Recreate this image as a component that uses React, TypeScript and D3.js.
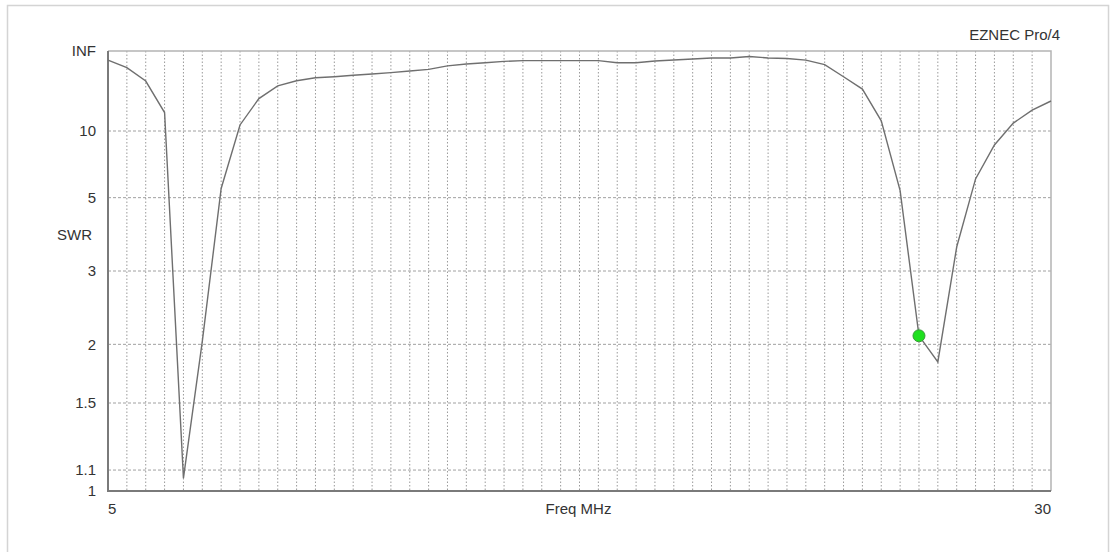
import React, { useEffect, useRef } from "react";
import * as d3 from "d3";

// SWR sweep, 5 - 30 MHz, read every 0.5 MHz
const freqs = [
  5, 5.5, 6, 6.5, 7, 7.5, 8, 8.5, 9, 9.5,
  10, 10.5, 11, 11.5, 12, 12.5, 13, 13.5, 14, 14.5,
  15, 15.5, 16, 16.5, 17, 17.5, 18, 18.5, 19, 19.5,
  20, 20.5, 21, 21.5, 22, 22.5, 23, 23.5, 24, 24.5,
  25, 25.5, 26, 26.5, 27, 27.5, 28, 28.5, 29, 29.5, 30,
];
const swr = [
  96, 52, 28.3, 13.3, 1.06, 2.03, 5.4, 10.9, 17.5, 24.2,
  28.6, 31.9, 33.2, 35.2, 37.3, 39.6, 43, 47, 58, 67,
  74, 84, 90, 90, 90, 90, 90, 74, 74, 87,
  96, 109, 125, 125, 159, 125, 116, 95, 64, 33.2,
  22.1, 11.6, 5.3, 2.09, 1.83, 3.49, 5.88, 8.36, 11.2, 13.9, 16.6,
];
const markerFreq = 26.5;
const markerSwr = 2.09;

const swrTicks = [1, 1.1, 1.5, 2, 3, 5, 10, Infinity];
const swrTickLabels = ["1", "1.1", "1.5", "2", "3", "5", "10", "INF"];

// EZNEC plots SWR on a reflection coefficient scale
const rho = (s: number) => (s === Infinity ? 1 : (s - 1) / (s + 1));

const App = () => {
  const svgRef = useRef<SVGSVGElement>(null);

  useEffect(() => {
    const width = 1113;
    const height = 552;
    const margin = { top: 51, right: 62, bottom: 61, left: 108 };
    const font = "'Liberation Sans', Arial, sans-serif";

    const svg = d3.select(svgRef.current);
    svg.selectAll("*").remove();

    const x = d3.scaleLinear()
      .domain([5, 30])
      .range([margin.left, width - margin.right]);

    const yr = d3.scaleLinear()
      .domain([0, 1])
      .range([height - margin.bottom, margin.top]);
    const y = (s: number) => yr(rho(s));

    // outer frame
    svg.append("rect")
      .attr("x", 7.5).attr("y", 5.5)
      .attr("width", 1101).attr("height", 560)
      .attr("fill", "white")
      .attr("stroke", "#d4d4d4")
      .attr("stroke-width", 1.5);

    // vertical grid, every 0.5 MHz
    svg.append("g")
      .selectAll("line")
      .data(d3.range(5.5, 30, 0.5))
      .join("line")
      .attr("x1", d => x(d)).attr("x2", d => x(d))
      .attr("y1", margin.top).attr("y2", height - margin.bottom)
      .attr("stroke", "#9a9a9a")
      .attr("stroke-width", 1)
      .attr("stroke-dasharray", "1.5,2");

    // horizontal grid
    svg.append("g")
      .selectAll("line")
      .data(swrTicks.filter(s => s > 1 && s !== Infinity))
      .join("line")
      .attr("x1", margin.left).attr("x2", width - margin.right)
      .attr("y1", d => y(d)).attr("y2", d => y(d))
      .attr("stroke", "#a0a0a0")
      .attr("stroke-width", 1)
      .attr("stroke-dasharray", "3,2");

    // top and right edges (light)
    svg.append("path")
      .attr("d", `M${margin.left},${margin.top}H${width - margin.right}V${height - margin.bottom}`)
      .attr("fill", "none")
      .attr("stroke", "#b4b4b4")
      .attr("stroke-width", 1.5);

    // left and bottom axes (darker)
    svg.append("path")
      .attr("d", `M${margin.left},${margin.top}V${height - margin.bottom}H${width - margin.right}`)
      .attr("fill", "none")
      .attr("stroke", "#7a7a7a")
      .attr("stroke-width", 2);

    // y tick labels
    svg.append("g")
      .selectAll("text")
      .data(swrTicks)
      .join("text")
      .attr("x", 96)
      .attr("y", d => y(d))
      .attr("dy", "0.35em")
      .attr("text-anchor", "end")
      .attr("font-family", font)
      .attr("font-size", 15)
      .attr("fill", "#333")
      .text((d, i) => swrTickLabels[i]);

    svg.append("text")
      .attr("x", 92).attr("y", 235)
      .attr("dy", "0.35em")
      .attr("text-anchor", "end")
      .attr("font-family", font)
      .attr("font-size", 15)
      .attr("fill", "#333")
      .text("SWR");

    // x labels
    const xl = svg.append("g")
      .attr("font-family", font)
      .attr("font-size", 15)
      .attr("fill", "#333");
    xl.append("text").attr("x", x(5)).attr("y", 509).attr("dy", "0.35em").text("5");
    xl.append("text").attr("x", x(30)).attr("y", 509).attr("dy", "0.35em")
      .attr("text-anchor", "end").text("30");
    xl.append("text").attr("x", x(17.5) - 1).attr("y", 509).attr("dy", "0.35em")
      .attr("text-anchor", "middle").text("Freq MHz");

    svg.append("text")
      .attr("x", 1060).attr("y", 35)
      .attr("dy", "0.35em")
      .attr("text-anchor", "end")
      .attr("font-family", font)
      .attr("font-size", 15)
      .attr("fill", "#333")
      .text("EZNEC Pro/4");

    // SWR curve
    const line = d3.line<number>()
      .x((d, i) => x(freqs[i]))
      .y(d => y(d));

    svg.append("path")
      .datum(swr)
      .attr("d", line)
      .attr("fill", "none")
      .attr("stroke", "#6f6f6f")
      .attr("stroke-width", 1.4);

    // marker
    svg.append("circle")
      .attr("cx", x(markerFreq))
      .attr("cy", y(markerSwr))
      .attr("r", 6)
      .attr("fill", "#1ee01e")
      .attr("stroke", "#3a9a3a")
      .attr("stroke-width", 1);
  }, []);

  return (
    <svg
      ref={svgRef}
      width={1113}
      height={552}
      style={{ position: "absolute", left: 0, top: 0 }}
    ></svg>
  );
};

export default App;
